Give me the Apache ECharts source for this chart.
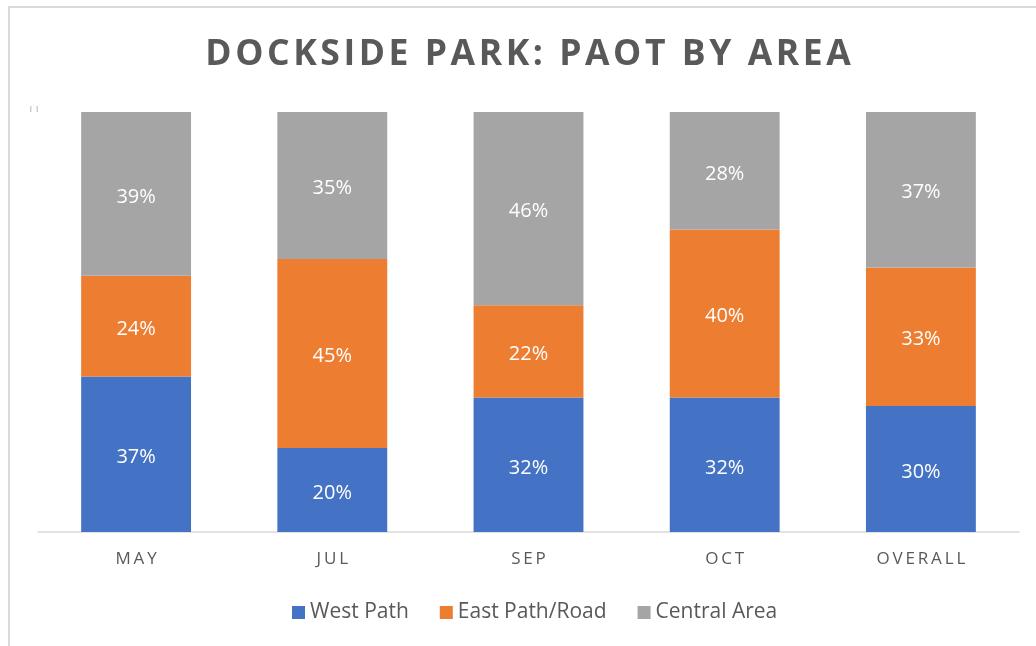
<!DOCTYPE html>
<html>
<head>
<meta charset="utf-8">
<script src="https://cdn.jsdelivr.net/npm/echarts@6/dist/echarts.min.js"></script>
<style>
  html, body { margin: 0; padding: 0; background: #fff; }
  #chart { width: 1036px; height: 646px; }
</style>
</head>
<body>
<div id="chart"></div>
<script>
// Share of PAOT (people at one time) by area, per survey month
const categories = ['MAY', 'JUL', 'SEP', 'OCT', 'OVERALL'];
const westPath = [37, 20, 32, 32, 30];
const eastPathRoad = [24, 45, 22, 40, 33];
const centralArea = [39, 35, 46, 28, 37];

const seriesNames = ['West Path', 'East Path/Road', 'Central Area'];
const colors = ['#4472C4', '#ED7D31', '#A5A5A5'];
const textColor = '#595959';
const font = '"Open Sans", "Noto Sans", sans-serif';
const titleText = 'DOCKSIDE PARK: PAOT BY AREA';

// spread letters of a label with narrow spaces
const spaced = (s, gap) => s.split('').join(gap);

const chart = echarts.init(document.getElementById('chart'), null, { renderer: 'canvas' });

function barSeries(name, data, color) {
  return {
    name: name,
    type: 'bar',
    stack: 'total',
    data: data,
    barWidth: '56%',
    itemStyle: { color: color },
    label: {
      show: true,
      position: 'inside',
      offset: [0, 3],
      formatter: '{c}%',
      color: '#ffffff',
      fontFamily: font,
      fontSize: 20
    },
    emphasis: { disabled: true }
  };
}

chart.setOption({
  animation: false,
  backgroundColor: '#ffffff',
  grid: { left: 38, right: 17, top: 112, bottom: 114, containLabel: false },
  xAxis: {
    type: 'category',
    data: categories,
    axisLine: { show: true, lineStyle: { color: '#D9D9D9', width: 1.5 } },
    axisTick: { show: false },
    axisLabel: {
      color: textColor,
      fontFamily: font,
      fontSize: 17,
      margin: 19,
      formatter: v => spaced(v, '\u2009')
    }
  },
  yAxis: {
    type: 'value',
    min: 0,
    max: 100,
    show: false
  },
  legend: {
    left: 287,
    top: 597,
    icon: 'rect',
    itemWidth: 13,
    itemHeight: 13,
    itemGap: 31,
    data: seriesNames,
    textStyle: { color: textColor, fontFamily: font, fontSize: 21, padding: [0, 0, 0, 0] }
  },
  graphic: [
    {
      type: 'rect',
      shape: { x: 9, y: 7, width: 1200, height: 800 },
      style: { fill: 'none', stroke: '#D9D9D9', lineWidth: 2 },
      silent: true
    },
    {
      type: 'text',
      x: 528,
      y: 55,
      style: {
        text: spaced(titleText, '\u200A'),
        fill: textColor,
        font: 'bold 35.5px ' + font,
        textAlign: 'center',
        textVerticalAlign: 'middle'
      },
      silent: true
    },
    {
      type: 'rect',
      shape: { x: 30, y: 106, width: 1.5, height: 6 },
      style: { fill: '#CFCFCF' },
      silent: true
    },
    {
      type: 'rect',
      shape: { x: 36.5, y: 106, width: 1.5, height: 6 },
      style: { fill: '#CFCFCF' },
      silent: true
    }
  ],
  series: [
    barSeries(seriesNames[0], westPath, colors[0]),
    barSeries(seriesNames[1], eastPathRoad, colors[1]),
    barSeries(seriesNames[2], centralArea, colors[2])
  ]
});
</script>
</body>
</html>
